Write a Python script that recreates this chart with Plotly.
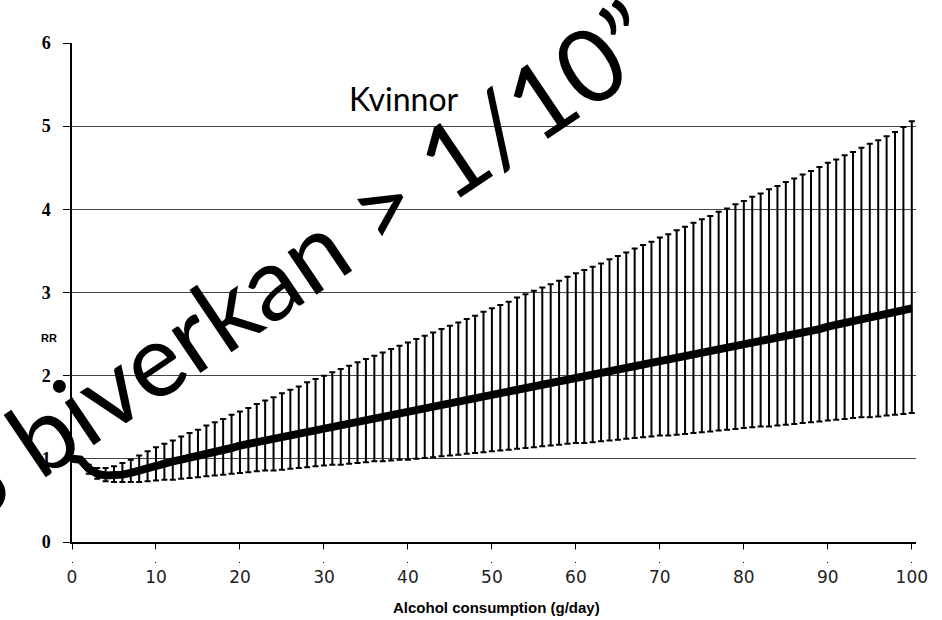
import plotly.graph_objects as go

alcohol_g_day = list(range(0, 101))

rr_mean = [
    1.00, 0.99, 0.88, 0.82, 0.80, 0.80, 0.81, 0.83, 0.86, 0.90,
    0.93, 0.95, 0.97, 0.99, 1.01, 1.04, 1.06, 1.08, 1.10, 1.13,
    1.16, 1.18, 1.20, 1.22, 1.24, 1.27, 1.29, 1.31, 1.33, 1.35,
    1.37, 1.39, 1.41, 1.43, 1.45, 1.47, 1.49, 1.51, 1.53, 1.55,
    1.57, 1.59, 1.61, 1.63, 1.65, 1.67, 1.69, 1.71, 1.73, 1.75,
    1.77, 1.79, 1.81, 1.83, 1.85, 1.87, 1.89, 1.91, 1.93, 1.95,
    1.97, 1.99, 2.01, 2.03, 2.05, 2.07, 2.09, 2.11, 2.13, 2.15,
    2.17, 2.19, 2.21, 2.24, 2.26, 2.28, 2.30, 2.32, 2.34, 2.36,
    2.38, 2.40, 2.42, 2.44, 2.46, 2.48, 2.50, 2.52, 2.54, 2.56,
    2.59, 2.61, 2.63, 2.65, 2.67, 2.69, 2.71, 2.73, 2.75, 2.78,
    2.81,
]

rr_upper = [
    1.02, 1.01, 0.93, 0.89, 0.89, 0.91, 0.95, 0.99, 1.04, 1.09,
    1.14, 1.18, 1.22, 1.27, 1.31, 1.35, 1.40, 1.44, 1.48, 1.53,
    1.57, 1.61, 1.66, 1.70, 1.74, 1.79, 1.83, 1.87, 1.92, 1.96,
    2.00, 2.04, 2.08, 2.12, 2.16, 2.20, 2.24, 2.28, 2.32, 2.36,
    2.40, 2.44, 2.48, 2.52, 2.56, 2.60, 2.64, 2.68, 2.72, 2.77,
    2.81, 2.85, 2.89, 2.94, 2.98, 3.02, 3.06, 3.10, 3.14, 3.19,
    3.23, 3.27, 3.31, 3.35, 3.40, 3.44, 3.48, 3.53, 3.57, 3.61,
    3.66, 3.70, 3.75, 3.79, 3.84, 3.88, 3.92, 3.97, 4.01, 4.06,
    4.10, 4.15, 4.19, 4.24, 4.28, 4.33, 4.37, 4.42, 4.46, 4.51,
    4.56, 4.60, 4.65, 4.69, 4.74, 4.79, 4.83, 4.88, 4.93, 4.99,
    5.06,
]

rr_lower = [
    0.99, 0.97, 0.82, 0.76, 0.73, 0.72, 0.72, 0.72, 0.72, 0.73,
    0.74, 0.75, 0.75, 0.76, 0.77, 0.78, 0.79, 0.80, 0.81, 0.82,
    0.83, 0.84, 0.85, 0.86, 0.86, 0.87, 0.88, 0.89, 0.90, 0.91,
    0.92, 0.93, 0.93, 0.94, 0.95, 0.96, 0.97, 0.97, 0.98, 0.99,
    0.99, 1.00, 1.01, 1.02, 1.03, 1.04, 1.05, 1.06, 1.07, 1.08,
    1.09, 1.10, 1.11, 1.12, 1.13, 1.14, 1.15, 1.16, 1.17, 1.18,
    1.19, 1.19, 1.20, 1.21, 1.22, 1.23, 1.24, 1.25, 1.26, 1.27,
    1.28, 1.28, 1.29, 1.30, 1.31, 1.32, 1.33, 1.34, 1.35, 1.36,
    1.37, 1.38, 1.39, 1.39, 1.40, 1.41, 1.42, 1.43, 1.44, 1.45,
    1.46, 1.47, 1.48, 1.49, 1.50, 1.50, 1.51, 1.52, 1.53, 1.54,
    1.55,
]

x_ticks = [0, 10, 20, 30, 40, 50, 60, 70, 80, 90, 100]
y_ticks = [0, 1, 2, 3, 4, 5, 6]

err_plus = [u - m for u, m in zip(rr_upper, rr_mean)]
err_minus = [m - l for m, l in zip(rr_mean, rr_lower)]

fig = go.Figure()
fig.add_trace(go.Scatter(
    x=alcohol_g_day, y=rr_mean, mode="markers",
    marker=dict(size=1, color="rgba(0,0,0,0)"),
    error_y=dict(type="data", symmetric=False, array=err_plus, arrayminus=err_minus,
                 color="black", thickness=2, width=3),
    showlegend=False, hoverinfo="skip",
))
fig.add_trace(go.Scatter(
    x=alcohol_g_day, y=rr_mean, mode="lines",
    line=dict(color="black", width=8),
    showlegend=False,
))

W, H = 942, 620
L, R, T, B = 72, 26, 43, 78
pw, ph = W - L - R, H - T - B

def px(xp):
    return (xp - L) / pw

def py(yp):
    return (H - B - yp) / ph

fig.update_layout(
    width=W, height=H,
    margin=dict(l=L, r=R, t=T, b=B, pad=0),
    paper_bgcolor="white", plot_bgcolor="white",
    xaxis=dict(
        range=[0, 100.5], tickvals=x_ticks, ticks="outside", ticklen=19,
        tickcolor="black", showline=True, linecolor="black", linewidth=1.5,
        showgrid=False, zeroline=False,
        tickfont=dict(family="DejaVu Sans", size=17, color="#222"),
    ),
    yaxis=dict(
        range=[0, 6], tickvals=y_ticks,
        ticktext=["%d\u00a0\u00a0" % v for v in y_ticks],
        ticks="outside", ticklen=7,
        tickcolor="black", showline=True, linecolor="black", linewidth=1.5,
        showgrid=True, gridcolor="#444", gridwidth=1, zeroline=False,
        tickfont=dict(family="Liberation Serif", size=18, color="black", weight="bold"),
    ),
    shapes=[
        # masks the lower part of the long x ticks so only 7 px stay visible
        dict(type="rect", xref="paper", yref="paper", layer="above",
             x0=-0.02, x1=1.03, y0=py(549.5), y1=py(562),
             fillcolor="white", line=dict(width=0)),
    ],
    annotations=[
        dict(text="<b>Alcohol consumption (g/day)</b>", xref="paper", yref="paper",
             x=px(496), y=py(607), xanchor="center", yanchor="middle", showarrow=False,
             font=dict(family="Liberation Sans", size=15, color="black")),
        dict(text="<b>RR</b>", xref="paper", yref="paper",
             x=px(49), y=py(338), xanchor="center", yanchor="middle", showarrow=False,
             font=dict(family="Liberation Sans", size=11, color="black")),
        dict(text="Kvinnor", xref="paper", yref="paper",
             x=px(404), y=py(98), xanchor="center", yanchor="middle", showarrow=False,
             font=dict(family="Lato", size=32, color="black")),
        dict(text="3 biverkan > 1/10\u201d", xref="paper", yref="paper",
             x=px(295), y=py(261), xanchor="center", yanchor="middle",
             showarrow=False, textangle=-34,
             font=dict(family="Lato", size=102, color="black")),
    ],
)

fig.write_html("out.html", post_script="document.body.style.margin='0';",
               config={"displayModeBar": False})
